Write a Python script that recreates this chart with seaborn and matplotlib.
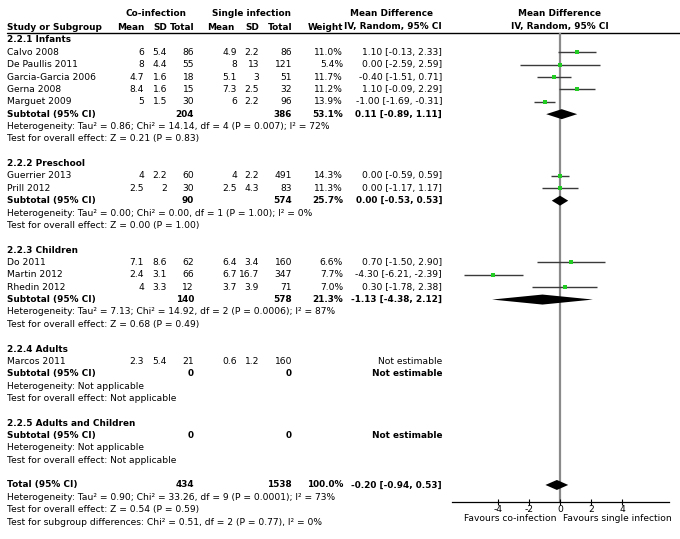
import numpy as np
import pandas as pd
import matplotlib
matplotlib.use("Agg")
import matplotlib.pyplot as plt
import seaborn as sns

sns.set_style("white")
plt.rcParams['font.family'] = ['DejaVu Sans']
plt.rcParams['axes.unicode_minus'] = False

# ---- data ----
group_names = ["2.2.1 Infants", "2.2.2 Preschool", "2.2.3 Children", "2.2.4 Adults",
               "2.2.5 Adults and Children"]
studies = ["Calvo 2008", "De Paullis 2011", "Garcia-Garcia 2006", "Gerna 2008", "Marguet 2009",
           "Guerrier 2013", "Prill 2012",
           "Do 2011", "Martin 2012", "Rhedin 2012",
           "Marcos 2011"]
study_group = [0, 0, 0, 0, 0, 1, 1, 2, 2, 2, 3]
co_mean = [6, 8, 4.7, 8.4, 5, 4, 2.5, 7.1, 2.4, 4, 2.3]
co_sd = [5.4, 4.4, 1.6, 1.6, 1.5, 2.2, 2, 8.6, 3.1, 3.3, 5.4]
co_n = [86, 55, 18, 15, 30, 60, 30, 62, 66, 12, 21]
si_mean = [4.9, 8, 5.1, 7.3, 6, 4, 2.5, 6.4, 6.7, 3.7, 0.6]
si_sd = [2.2, 13, 3, 2.5, 2.2, 2.2, 4.3, 3.4, 16.7, 3.9, 1.2]
si_n = [86, 121, 51, 32, 96, 491, 83, 160, 347, 71, 160]
weight = [11.0, 5.4, 11.7, 11.2, 13.9, 14.3, 11.3, 6.6, 7.7, 7.0, None]
md = [1.10, 0.00, -0.40, 1.10, -1.00, 0.00, 0.00, 0.70, -4.30, 0.30, None]
md_lo = [-0.13, -2.59, -1.51, -0.09, -1.69, -0.59, -1.17, -1.50, -6.21, -1.78, None]
md_hi = [2.33, 2.59, 0.71, 2.29, -0.31, 0.59, 1.17, 2.90, -2.39, 2.38, None]

sub_co_n = [204, 90, 140, 0, 0]
sub_si_n = [386, 574, 578, 0, 0]
sub_weight = [53.1, 25.7, 21.3, None, None]
sub_md = [0.11, 0.00, -1.13, None, None]
sub_lo = [-0.89, -0.53, -4.38, None, None]
sub_hi = [1.11, 0.53, 2.12, None, None]
sub_het = ["Heterogeneity: Tau² = 0.86; Chi² = 14.14, df = 4 (P = 0.007); I² = 72%",
           "Heterogeneity: Tau² = 0.00; Chi² = 0.00, df = 1 (P = 1.00); I² = 0%",
           "Heterogeneity: Tau² = 7.13; Chi² = 14.92, df = 2 (P = 0.0006); I² = 87%",
           "Heterogeneity: Not applicable",
           "Heterogeneity: Not applicable"]
sub_test = ["Test for overall effect: Z = 0.21 (P = 0.83)",
            "Test for overall effect: Z = 0.00 (P = 1.00)",
            "Test for overall effect: Z = 0.68 (P = 0.49)",
            "Test for overall effect: Not applicable",
            "Test for overall effect: Not applicable"]

total_co_n = 434
total_si_n = 1538
total_weight = 100.0
total_md, total_lo, total_hi = -0.20, -0.94, 0.53
total_notes = ["Heterogeneity: Tau² = 0.90; Chi² = 33.26, df = 9 (P = 0.0001); I² = 73%",
               "Test for overall effect: Z = 0.54 (P = 0.59)",
               "Test for subgroup differences: Chi² = 0.51, df = 2 (P = 0.77), I² = 0%"]

xticks = [-4, -2, 0, 2, 4]

# ---- layout (pixel units) ----
W, H = 680, 539
FS = 6.6
FS_B = 6.4
X_STUDY = 7
COLS = {"co_mean": 144, "co_sd": 167, "co_n": 194, "si_mean": 237, "si_sd": 259,
        "si_n": 292, "weight": 343, "md": 442}
ROW0, DY = 40, 12.36
AX_L, AX_R, AX_TOP, AX_BOT = 451.5, 668.5, 33, 502


def fmt_ci(m, lo, hi):
    return f"{m:.2f} [{lo:.2f}, {hi:.2f}]"


fig = plt.figure(figsize=(W / 100, H / 100), dpi=100)
ax = fig.add_axes([0, 0, 1, 1])
ax.set_xlim(0, W)
ax.set_ylim(H, 0)
ax.axis("off")

fax = fig.add_axes([AX_L / W, (H - AX_BOT) / H, (AX_R - AX_L) / W, (AX_BOT - AX_TOP) / H])
fax.set_xlim(-7, 7)
fax.set_ylim(AX_BOT, AX_TOP)
fax.patch.set_alpha(0)
for s in ["top", "left", "right"]:
    fax.spines[s].set_visible(False)
fax.spines["bottom"].set_linewidth(0.9)
fax.spines["bottom"].set_color("black")
fax.set_yticks([])
fax.set_xticks(xticks)
fax.tick_params(axis="x", direction="inout", length=5, width=0.8, labelsize=FS, pad=0,
                colors="black", bottom=True)


def txt(x, y, s, ha="left", bold=False):
    ax.text(x, y, s, ha=ha, va="center", fontsize=FS_B if bold else FS,
            fontweight="bold" if bold else "normal", color="black")


# headers
txt(156, 14, "Co-infection", ha="center", bold=True)
txt(252, 14, "Single infection", ha="center", bold=True)
txt(392, 14, "Mean Difference", ha="center", bold=True)
txt(560, 14, "Mean Difference", ha="center", bold=True)
txt(X_STUDY, 27, "Study or Subgroup", bold=True)
txt(COLS["co_mean"], 27, "Mean", ha="right", bold=True)
txt(COLS["co_sd"], 27, "SD", ha="right", bold=True)
txt(COLS["co_n"], 27, "Total", ha="right", bold=True)
txt(234, 27, "Mean", ha="right", bold=True)
txt(COLS["si_sd"], 27, "SD", ha="right", bold=True)
txt(COLS["si_n"], 27, "Total", ha="right", bold=True)
txt(COLS["weight"], 27, "Weight", ha="right", bold=True)
txt(COLS["md"], 27, "IV, Random, 95% CI", ha="right", bold=True)
txt(560, 27, "IV, Random, 95% CI", ha="center", bold=True)
ax.plot([X_STUDY, W], [33, 33], color="black", lw=1)

# rows
pts = []
row = 0
for g, gname in enumerate(group_names):
    y = ROW0 + DY * row
    txt(X_STUDY, y, gname, bold=True)
    row += 1
    for i in range(len(studies)):
        if study_group[i] != g:
            continue
        y = ROW0 + DY * row
        txt(X_STUDY, y, studies[i])
        txt(COLS["co_mean"], y, f"{co_mean[i]:g}", ha="right")
        txt(COLS["co_sd"], y, f"{co_sd[i]:g}", ha="right")
        txt(COLS["co_n"], y, f"{co_n[i]}", ha="right")
        txt(COLS["si_mean"], y, f"{si_mean[i]:g}", ha="right")
        txt(COLS["si_sd"], y, f"{si_sd[i]:g}", ha="right")
        txt(COLS["si_n"], y, f"{si_n[i]}", ha="right")
        if md[i] is None:
            txt(COLS["md"], y, "Not estimable", ha="right")
        else:
            txt(COLS["weight"], y, f"{weight[i]:.1f}%", ha="right")
            txt(COLS["md"], y, fmt_ci(md[i], md_lo[i], md_hi[i]), ha="right")
            fax.hlines(y, md_lo[i], md_hi[i], color="#3a3a3a", lw=1)
            pts.append((md[i], y))
        row += 1
    y = ROW0 + DY * row
    txt(X_STUDY, y, "Subtotal (95% CI)", bold=True)
    txt(COLS["co_n"], y, f"{sub_co_n[g]}", ha="right", bold=True)
    txt(COLS["si_n"], y, f"{sub_si_n[g]}", ha="right", bold=True)
    if sub_md[g] is None:
        txt(COLS["md"], y, "Not estimable", ha="right", bold=True)
    else:
        txt(COLS["weight"], y, f"{sub_weight[g]:.1f}%", ha="right", bold=True)
        txt(COLS["md"], y, fmt_ci(sub_md[g], sub_lo[g], sub_hi[g]), ha="right", bold=True)
        fax.fill([sub_lo[g], sub_md[g], sub_hi[g], sub_md[g]], [y, y - 5, y, y + 5],
                 color="black", lw=0)
    row += 1
    txt(X_STUDY, ROW0 + DY * row, sub_het[g])
    row += 1
    txt(X_STUDY, ROW0 + DY * row, sub_test[g])
    row += 2

y = ROW0 + DY * row
txt(X_STUDY, y, "Total (95% CI)", bold=True)
txt(COLS["co_n"], y, f"{total_co_n}", ha="right", bold=True)
txt(COLS["si_n"], y, f"{total_si_n}", ha="right", bold=True)
txt(COLS["weight"], y, f"{total_weight:.1f}%", ha="right", bold=True)
txt(COLS["md"], y, fmt_ci(total_md, total_lo, total_hi), ha="right", bold=True)
fax.fill([total_lo, total_md, total_hi, total_md], [y, y - 5, y, y + 5], color="black", lw=0)
row += 1
for note in total_notes:
    txt(X_STUDY, ROW0 + DY * row, note)
    row += 1

# zero line
fax.axvline(0, color="#8a8a8a", lw=1.6, zorder=0)

# point estimates
df = pd.DataFrame(pts, columns=["md", "y"])
sns.scatterplot(data=df, x="md", y="y", ax=fax, marker="s", s=8, color="#22cc22",
                linewidth=0, zorder=5)
fax.set_xlabel("")
fax.set_ylabel("")
fax.set_ylim(AX_BOT, AX_TOP)

txt(557, 518.5, "Favours co-infection", ha="right")
txt(563, 518.5, "Favours single infection", ha="left")

fig.savefig("out.png", dpi=100)
